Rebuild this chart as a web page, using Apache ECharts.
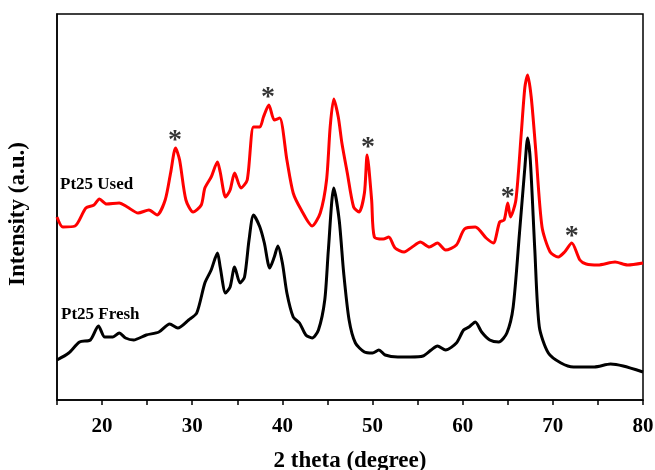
<!DOCTYPE html>
<html><head><meta charset="utf-8">
<script src="https://cdn.jsdelivr.net/npm/echarts@6/dist/echarts.min.js"></script>
<style>html,body{margin:0;padding:0;background:#fff}#c{width:655px;height:470px}</style>
</head><body><div id="c"></div>
<script>
// 2θ (degree) and intensity (a.u.)
const usedTheta = [15,15.65,17.0,18.2,19.1,19.7,20.5,21.9,22.8,24.0,25.2,26.1,27.0,27.6,28.15,28.6,29.3,30.1,31.0,31.4,32.1,32.8,33.1,33.7,34.2,34.7,35.4,36.1,36.8,37.5,37.9,38.5,39.1,39.7,40.5,41.2,42.1,43.3,44.2,44.9,45.3,45.7,46.2,46.6,47.2,47.9,48.5,49.1,49.4,49.9,50.2,51.2,51.8,52.5,53.5,54.4,55.3,56.3,57.2,58.1,59.3,60.2,61.4,62.6,63.4,64.1,64.6,65.0,65.3,65.9,66.5,66.9,67.2,67.6,68.1,68.8,69.7,70.6,71.3,72.1,73.0,73.7,75.0,76.9,78.3,80];
const usedInt = [183,173,174,192,195,201,196,197,193,187,190,185,200,227,252,240,200,188,195,212,223,238,228,203,210,227,212,220,273,273,283,295,280,282,240,207,190,174,187,220,273,301,283,257,227,193,188,207,245,200,163,161,163,152,148,153,158,153,157,150,155,171,173,162,157,178,180,197,183,200,267,313,325,303,250,173,148,143,148,157,140,136,135,138,135,137];
const freshTheta = [15,16.3,17.5,18.7,19.6,20.3,21.2,21.9,22.6,23.5,24.9,26.3,27.5,28.4,29.6,30.5,31.4,32.1,32.8,33.1,33.7,34.2,34.7,35.3,35.8,36.3,36.8,37.5,38.0,38.6,39.1,39.5,40.0,40.5,41.2,41.9,42.6,43.3,44.0,44.7,45.1,45.7,46.3,46.8,47.4,48.1,49.1,50.0,50.7,51.4,52.8,54.2,55.6,56.5,57.2,58.1,59.3,60.1,60.7,61.4,62.1,63.0,64.0,64.9,65.6,66.3,66.9,67.2,67.5,68.0,68.5,69.5,70.9,72.3,74.6,76.4,77.8,80];
const freshInt = [40,47,58,60,74,63,63,67,62,60,65,68,76,72,80,87,117,130,147,133,107,113,133,117,123,160,185,173,157,132,143,154,137,107,83,77,65,62,70,100,150,212,180,127,80,57,48,47,50,45,43,43,44,50,54,50,57,70,73,78,68,60,58,67,93,167,233,262,240,150,73,47,37,33,33,36,34,28];
// asterisk markers (2θ, position)
const starTheta = [28.1,38.4,49.5,65.0,72.1];
const starInt = [264,307,257,207,168];
const xTicks = [20,30,40,50,60,70,80];
const seriesNames = ['Pt25 Used','Pt25 Fresh'];
const xTitle = '2 theta (degree)';
const yTitle = 'Intensity (a.u.)';

const zip = (a,b)=>a.map((v,i)=>[v,b[i]]);
const chart = echarts.init(document.getElementById('c'));
const font = '"Liberation Serif","Times New Roman",serif';
chart.setOption({
  animation:false,
  grid:{left:57,right:12,top:14,bottom:70,show:true,borderColor:'#000',borderWidth:1.5,
    containLabel:false,outerBoundsMode:'none'},
  xAxis:{type:'value',min:15,max:80,interval:5,
    axisLine:{show:true,lineStyle:{color:'#000',width:1.5}},
    axisTick:{show:true,length:5,lineStyle:{color:'#000',width:1.5}},
    splitLine:{show:false},
    axisLabel:{color:'#000',fontFamily:font,fontWeight:'bold',fontSize:21,margin:16,
      formatter:v=>xTicks.includes(v)?String(v):''},
    name:xTitle,nameLocation:'middle',nameGap:50,
    nameTextStyle:{color:'#000',fontFamily:font,fontWeight:'bold',fontSize:23}},
  yAxis:{type:'value',min:0,max:386,
    axisLine:{show:true,lineStyle:{color:'#000',width:1.5}},
    axisTick:{show:false},axisLabel:{show:false},splitLine:{show:false}},
  series:[
    {name:seriesNames[0],type:'line',data:zip(usedTheta,usedInt),showSymbol:false,smooth:0.25,
      lineStyle:{color:'#ff0000',width:3}},
    {name:seriesNames[1],type:'line',data:zip(freshTheta,freshInt),showSymbol:false,smooth:0.25,
      lineStyle:{color:'#000',width:3}},
    {type:'scatter',data:zip(starTheta,starInt),symbolSize:0,
      label:{show:true,position:'inside',formatter:'*',color:'#000',fontFamily:font,fontWeight:'bold',fontSize:28,offset:[0,5]}}
  ],
  graphic:[
    {type:'text',left:60,top:176,style:{text:seriesNames[0],fill:'#000',font:'bold 17px '+font}},
    {type:'text',left:61,top:306,style:{text:seriesNames[1],fill:'#000',font:'bold 17px '+font}},
    {type:'text',x:18,y:214,rotation:Math.PI/2,
      style:{text:yTitle,fill:'#000',font:'bold 23px '+font,textAlign:'center',textVerticalAlign:'middle'}}
  ]
});
</script></body></html>
